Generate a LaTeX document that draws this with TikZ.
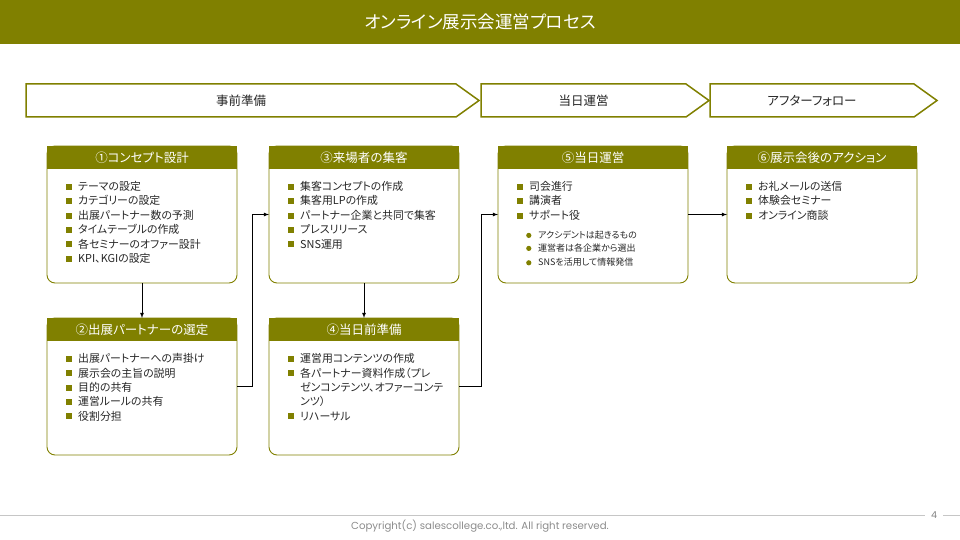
\documentclass[tikz,border=0pt]{standalone}
\usepackage{fontspec}
\setmainfont{Noto Sans CJK JP}[RawFeature=+palt]
\newfontfamily\footfont{Poppins}
\usetikzlibrary{arrows,positioning}
\definecolor{olv}{RGB}{128,128,0}
\definecolor{ink}{RGB}{38,38,38}
\newcommand{\itm}{\par\hangindent=12pt\hangafter=1\noindent
  \makebox[12pt][l]{\textcolor{olv}{\rule[0.8pt]{6pt}{6pt}}}}
\newcommand{\subitm}{\par\hangindent=21pt\hangafter=1\noindent\hspace*{9pt}%
  \makebox[12pt][l]{\tikz[baseline=-3pt]\fill[olv] (0pt,0pt) circle (2.6pt);}}
\tikzset{
  panel/.style      = {draw=olv, line width=0.9pt, rounded corners=8pt,
                       minimum width=190pt, minimum height=137pt,
                       inner sep=0pt, outer sep=0pt},
  panel head/.style = {fill=olv, text=white, minimum width=190pt,
                       minimum height=23pt, inner sep=0pt, anchor=north,
                       font=\fontsize{12.5}{12.5}\selectfont},
  item list/.style  = {anchor=north west, inner sep=0pt, text width=165pt,
                       align=left, text=ink, xshift=19pt, yshift=-30pt,
                       font=\fontsize{10.9}{14.4}\selectfont},
  phase/.style      = {draw=olv, line width=1.5pt, fill=white},
  phase text/.style = {text=ink, font=\fontsize{12.5}{12.5}\selectfont},
  conn/.style       = {->, draw=black, line width=0.8pt},
  footline/.style   = {draw=gray!45, line width=0.6pt}
}
\begin{document}
\begin{tikzpicture}[x=1pt, y=-1pt, >=latex, node distance=35pt and 32pt]
\useasboundingbox (0,0) rectangle (960,540);

\node[fill=olv, text=white, minimum width=960pt, minimum height=44pt,
  inner sep=0pt, anchor=north west, font=\fontsize{17.5}{17.5}\selectfont]
  (banner) at (0,0) {オンライン展示会運営プロセス};

% phases
\foreach \lft/\rgt/\txt/\nm in {26/456/事前準備/prep, 481/686/当日運営/day,
                                 710/914/アフターフォロー/follow}
{
  \draw[phase] (\lft,84) -- (\rgt,84) -- (\rgt+23,100.5) -- (\rgt,117)
    -- (\lft,117) -- cycle;
  \node[phase text] (\nm) at ({(\lft+\rgt)/2},100.5) {\txt};
}

% panels
\node[panel, anchor=north west] (b1) at (47,146) {};
\node[panel, below=of b1] (b2) {};
\node[panel, right=of b1] (b3) {};
\node[panel, below=of b3] (b4) {};
\node[panel, right=39pt of b3] (b5) {};
\node[panel, right=39pt of b5] (b6) {};

\foreach \i/\hd in {1/①コンセプト設計, 2/②出展パートナーの選定,
                    3/③来場者の集客, 4/④当日前準備,
                    5/⑤当日運営, 6/⑥展示会後のアクション}
  \node[panel head] (h\i) at (b\i.north) {\hd};

\node[item list] (l1) at (b1.north west) {\itm テーマの設定 \itm カテゴリーの設定
  \itm 出展パートナー数の予測 \itm タイムテーブルの作成
  \itm 各セミナーのオファー設計 \itm KPI、KGIの設定};
\node[item list] (l2) at (b2.north west) {\itm 出展パートナーへの声掛け
  \itm 展示会の主旨の説明 \itm 目的の共有 \itm 運営ルールの共有 \itm 役割分担};
\node[item list] (l3) at (b3.north west) {\itm 集客コンセプトの作成
  \itm 集客用LPの作成 \itm パートナー企業と共同で集客 \itm プレスリリース
  \itm SNS運用};
\node[item list] (l4) at (b4.north west) {\itm 運営用コンテンツの作成
  \itm 各パートナー資料作成（プレ\newline ゼンコンテンツ、オファーコンテ\newline ンツ）
  \itm リハーサル};
\node[item list] (l5) at (b5.north west) {\itm 司会進行 \itm 講演者 \itm サポート役
  \par\vskip 6pt\fontsize{9}{13}\selectfont
  \subitm アクシデントは起きるもの \subitm 運営者は各企業から選出
  \subitm SNSを活用して情報発信};
\node[item list] (l6) at (b6.north west) {\itm お礼メールの送信
  \itm 体験会セミナー \itm オンライン商談};

% flow
\draw[conn] (b1) -- (b2);
\draw[conn] (b2.east) -- ++(15,0) |- (b3.west);
\draw[conn] (b3) -- (b4);
\draw[conn] (b4.east) -- ++(22,0) |- (b5.west);
\draw[conn] (b5) -- (b6);

% footer
\coordinate (rule west) at (0,515);
\coordinate (rule east) at (960,515);
\node[text=gray, inner sep=6pt, font=\footfont\fontsize{9.5}{9.5}\selectfont]
  (pageno) at (934,515) {4};
\draw[footline] (rule west) -- (pageno) -- (rule east);
\node[text=gray!90, font=\footfont\fontsize{10.2}{10.2}\selectfont] (copy)
  at (480,526) {Copyright(c) salescollege.co.,ltd. All right reserved.};
\end{tikzpicture}
\end{document}
